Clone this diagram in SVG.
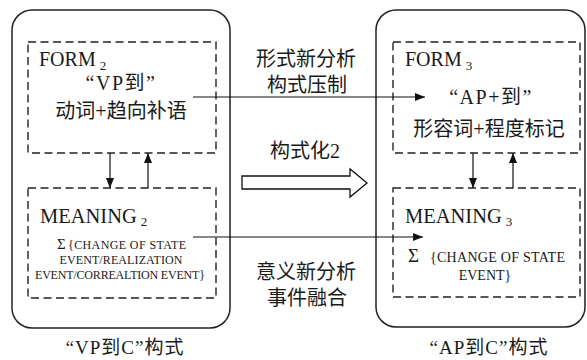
<svg xmlns="http://www.w3.org/2000/svg" width="587" height="360" viewBox="0 0 587 360">
<style>
.outer{fill:none;stroke:#222;stroke-width:1.5}
.inner{fill:none;stroke:#222;stroke-width:1.4;stroke-dasharray:8 4.5}
.t{font-family:"Liberation Serif","Noto Sans CJK SC",serif;fill:#1a1a1a}
.c{font-family:"Liberation Serif","Noto Sans CJK SC",serif;fill:#1a1a1a;text-anchor:middle}
.ln{stroke:#111;stroke-width:1.2;fill:none}
</style>
<defs>
<marker id="ah" viewBox="0 0 10 8" refX="10" refY="4" markerWidth="10" markerHeight="8" markerUnits="userSpaceOnUse" orient="auto">
<path d="M0,0 L10,4 L0,8 Z" fill="#111"/>
</marker>
</defs>
<rect width="587" height="360" fill="#fff"/>
<g id="vp-construction">
<rect class="outer" x="12" y="10" width="218" height="318" rx="20"/>
<text class="c" x="125" y="354" font-size="19" letter-spacing="1">“VP到C”构式</text>
</g>
<g id="form2">
<rect class="inner" x="28" y="42" width="188" height="111"/>
<text class="t" x="39" y="66" font-size="20">FORM<tspan font-size="13" dx="4" dy="4">2</tspan></text>
<text class="c" x="121" y="90" font-size="20" letter-spacing="1.5">“VP到”</text>
<text class="c" x="121" y="118" font-size="20">动词+趋向补语</text>
</g>
<g id="meaning2">
<rect class="inner" x="28" y="188" width="188" height="110"/>
<text class="t" x="40" y="223" font-size="20.5">MEANING<tspan font-size="13" dx="4" dy="3">2</tspan></text>
<text class="t" y="249"><tspan x="57" font-size="15">Σ</tspan><tspan x="68" font-size="12" textLength="118">{CHANGE OF STATE</tspan></text>
<text class="c" x="121" y="264" font-size="12" textLength="123">EVENT/REALIZATION</text>
<text class="c" x="120" y="279" font-size="12" textLength="170">EVENT/CORREALTION EVENT}</text>
</g>
<g id="ap-construction">
<rect class="outer" x="376" y="10" width="209" height="317" rx="20"/>
<text class="c" x="489" y="354" font-size="19" letter-spacing="1">“AP到C”构式</text>
</g>
<g id="form3">
<rect class="inner" x="393" y="42" width="187" height="111"/>
<text class="t" x="405" y="66" font-size="20">FORM<tspan font-size="13" dx="4" dy="4">3</tspan></text>
<text class="c" x="491" y="104" font-size="20" letter-spacing="1.5">“AP+到”</text>
<text class="c" x="489" y="136" font-size="20">形容词+程度标记</text>
</g>
<g id="meaning3">
<rect class="inner" x="393" y="188" width="187" height="109"/>
<text class="t" x="405" y="223" font-size="20.5">MEANING<tspan font-size="13" dx="4" dy="3">3</tspan></text>
<text class="t" y="262"><tspan x="408" font-size="19">Σ</tspan><tspan x="430" font-size="14" textLength="135">{CHANGE OF STATE</tspan></text>
<text class="c" x="485" y="280" font-size="14">EVENT}</text>
</g>
<g id="labels">
<text class="c" x="306" y="66" font-size="20">形式新分析</text>
<text class="c" x="307" y="92" font-size="20">构式压制</text>
<text class="c" x="305" y="158" font-size="20">构式化2</text>
<text class="c" x="306" y="279" font-size="20">意义新分析</text>
<text class="c" x="307" y="305" font-size="20">事件融合</text>
</g>
<g id="connectors">
<line class="ln" x1="193" y1="97" x2="425" y2="97" marker-end="url(#ah)"/>
<line class="ln" x1="193" y1="237" x2="423" y2="237" marker-end="url(#ah)"/>
<line class="ln" x1="110" y1="153" x2="110" y2="188" marker-end="url(#ah)"/>
<line class="ln" x1="148" y1="188" x2="148" y2="153" marker-end="url(#ah)"/>
<line class="ln" x1="473" y1="153" x2="473" y2="188" marker-end="url(#ah)"/>
<line class="ln" x1="513" y1="188" x2="513" y2="153" marker-end="url(#ah)"/>
<path d="M242,176 L350,176 L350,169 L367,183 L350,197 L350,189 L242,189 Z" fill="#fff" stroke="#111" stroke-width="1.3"/>
</g>
</svg>
